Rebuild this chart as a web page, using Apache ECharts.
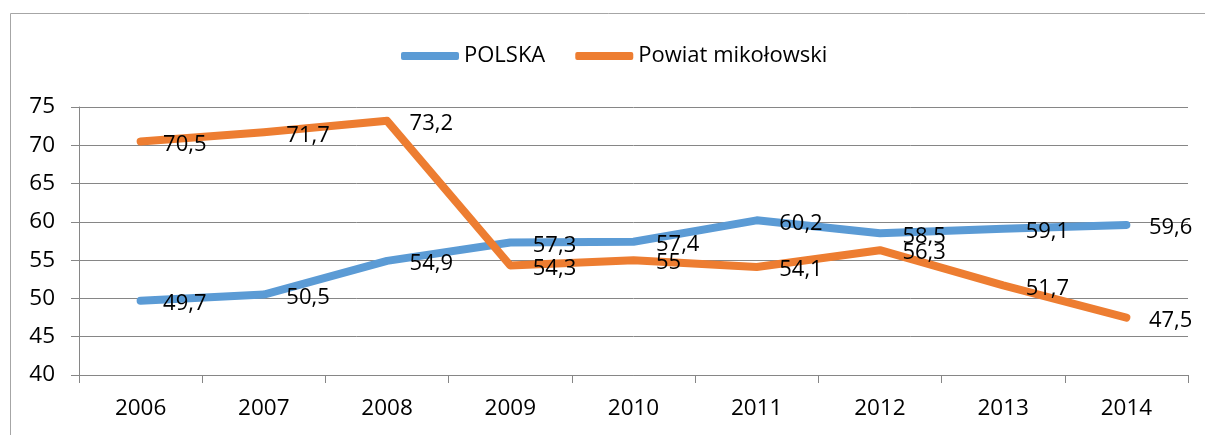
<!DOCTYPE html>
<html>
<head>
<meta charset="utf-8">
<script src="https://cdn.jsdelivr.net/npm/echarts@6/dist/echarts.min.js"></script>
<style>
  html, body { margin: 0; padding: 0; background: #fff; }
  #main { width: 1205px; height: 435px; }
</style>
</head>
<body>
<div id="main"></div>
<script>
// dane
const years = ['2006', '2007', '2008', '2009', '2010', '2011', '2012', '2013', '2014'];
const polska = [49.7, 50.5, 54.9, 57.3, 57.4, 60.2, 58.5, 59.1, 59.6];
const powiat = [70.5, 71.7, 73.2, 54.3, 55, 54.1, 56.3, 51.7, 47.5];
const seriesNames = ['POLSKA', 'Powiat mikołowski'];

const FONT = 'Open Sans';
const chart = echarts.init(document.getElementById('main'));

function lineSeries(name, data, color) {
  return {
    name: name,
    type: 'line',
    data: data,
    symbol: 'circle',
    symbolSize: 1,
    itemStyle: { color: color },
    lineStyle: { color: color, width: 8, cap: 'round', join: 'round' },
    label: {
      show: true,
      position: 'right',
      distance: 22,
      offset: [0, 3],
      color: '#000',
      fontFamily: FONT,
      fontSize: 22,
      formatter: p => String(p.value).replace('.', ',')
    },
    animation: false
  };
}

const option = {
  backgroundColor: '#fff',
  animation: false,
  graphic: [{
    type: 'rect',
    shape: { x: 10.5, y: 13.5, width: 1200, height: 430 },
    style: { fill: 'none', stroke: '#a6a6a6', lineWidth: 1 },
    silent: true
  }],
  legend: {
    data: seriesNames,
    left: 396,
    top: 40,
    itemWidth: 58,
    itemHeight: 8,
    itemGap: 30,
    icon: 'roundRect',
    textStyle: { color: '#000', fontFamily: FONT, fontSize: 22 }
  },
  grid: { left: 79, right: 17, top: 107, bottom: 60 },
  xAxis: {
    type: 'category',
    data: years,
    boundaryGap: true,
    axisLine: { lineStyle: { color: '#868686', width: 1 } },
    axisTick: { show: true, length: 8, lineStyle: { color: '#868686' } },
    axisLabel: { color: '#000', fontFamily: FONT, fontSize: 22.5, margin: 22 }
  },
  yAxis: {
    type: 'value',
    min: 40,
    max: 75,
    interval: 5,
    axisLine: { show: true, lineStyle: { color: '#868686', width: 1 } },
    axisTick: { show: true, length: 8, lineStyle: { color: '#868686' } },
    axisLabel: { color: '#000', fontFamily: FONT, fontSize: 22.5, margin: 24 },
    splitLine: { lineStyle: { color: '#868686', width: 1 } }
  },
  series: [
    lineSeries(seriesNames[0], polska, '#5b9bd5'),
    lineSeries(seriesNames[1], powiat, '#ed7d31')
  ]
};

chart.setOption(option);
window.onresize = chart.resize;
</script>
</body>
</html>
